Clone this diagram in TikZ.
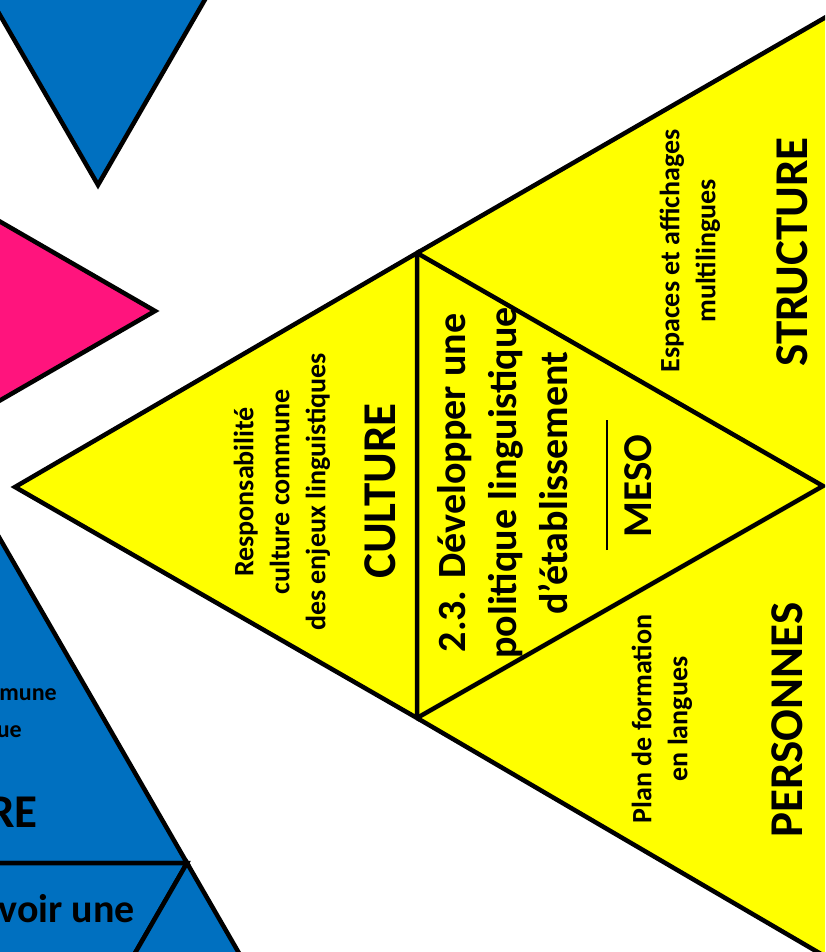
\documentclass[tikz,border=0pt]{standalone}
\usepackage{fontspec}
\setmainfont{Carlito}
\usepackage{xcolor}

\definecolor{jaune}{RGB}{255,255,0}
\definecolor{bleu}{RGB}{0,112,192}
\definecolor{rose}{RGB}{255,20,125}

\begin{document}
\begin{tikzpicture}[x=1pt, y=-1pt,
    tri/.style={draw=black, line width=4.5pt},
    small/.style={font=\bfseries\fontsize{28}{36}\selectfont, align=center, rotate=90, inner sep=0pt},
    big/.style={font=\bfseries\fontsize{47}{56}\selectfont, rotate=90, inner sep=0pt},
    titre/.style={font=\bfseries\fontsize{40}{51}\selectfont, align=center, rotate=90, inner sep=0pt},
    frag/.style={anchor=base east, inner sep=0pt}
]
    \useasboundingbox (0,0) rectangle (825,952);
    \clip (0,0) rectangle (825,952);

    % Other triangles (left, cut off)
    \draw[tri, fill=bleu] (98,185) -- (-134.5,-218) -- (330.5,-218) -- cycle;
    \draw[tri, fill=rose] (155,311) -- (-248,78.5) -- (-248,543.5) -- cycle;
    \draw[tri, fill=bleu] (-45.5,460) -- (187,863) -- (-278,863) -- cycle;
    \draw[tri, fill=bleu] (-278,863) -- (187,863) -- (-45.5,1266) -- cycle;
    \draw[tri, fill=bleu] (187,863) -- (419.5,1266) -- (-45.5,1266) -- cycle;

    % Texts of the blue triangle
    \node[frag, font=\bfseries\fontsize{24}{30}\selectfont] (bl1) at (57,700) {mune};
    \node[frag, font=\bfseries\fontsize{24}{30}\selectfont] (bl2) at (22,737) {ue};
    \node[frag, font=\bfseries\fontsize{47}{56}\selectfont] (bl3) at (38,827) {RE};
    \node[frag, font=\bfseries\fontsize{40}{51}\selectfont] (bl4) at (135,922) {voir une};

    % Yellow triangle (MESO)
    \coordinate (L) at (15,487);
    \coordinate (A) at (417,253);
    \coordinate (B) at (417,718);
    \coordinate (C) at (823,486);
    \coordinate (T) at (833,13);
    \coordinate (D) at (833,961);
    \fill[jaune] (A) -- (T) -- (D) -- (B) -- cycle;
    \draw[tri] (A) -- (T);
    \draw[tri] (B) -- (D);
    \draw[tri, fill=jaune] (L) -- (A) -- (B) -- cycle;
    \draw[tri] (A) -- (C) -- (B);

    % Culture
    \node[small] (culture) at (282,492) {Responsabilité\\culture commune\\des enjeux linguistiques};
    \node[big] (cultureT) at (380,491) {CULTURE};

    % Centre
    \node[titre] (meso) at (503,483) {2.3. Développer une\\politique linguistique\\d’établissement};
    \node[rotate=90, inner sep=0pt] (trait) at (607,485) {\rule{130pt}{2pt}};
    \node[rotate=90, inner sep=0pt, font=\bfseries\fontsize{41}{50}\selectfont] (mesoT) at (638,486) {MESO};

    % Structure
    \node[small] (structure) at (690,251) {Espaces et affichages\\multilingues};
    \node[big] (structureT) at (792,252) {STRUCTURE};

    % Personnes
    \node[small] (personnes) at (662,719) {Plan de formation\\en langues};
    \node[big] (personnesT) at (787,720) {PERSONNES};
\end{tikzpicture}
\end{document}
